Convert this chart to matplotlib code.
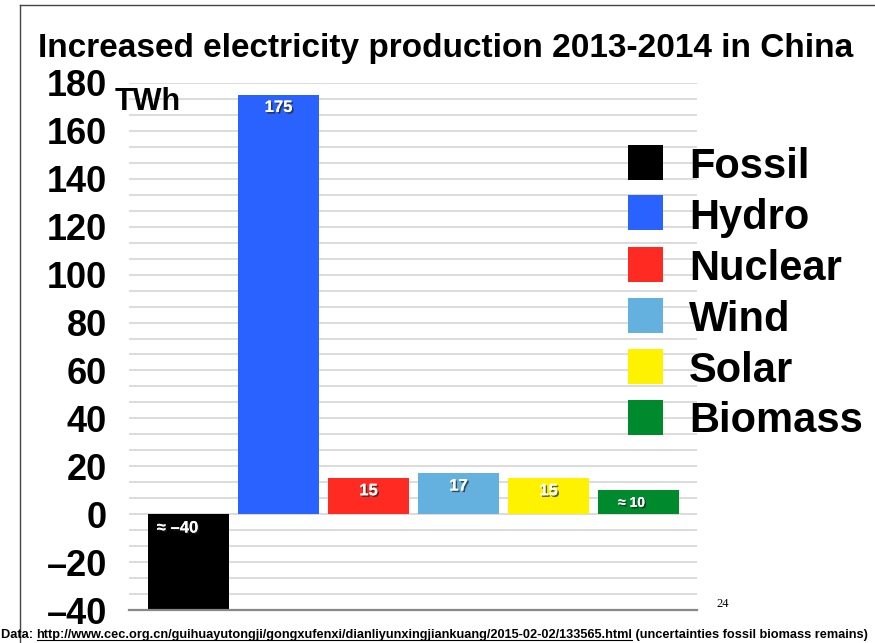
import numpy as np
import matplotlib
matplotlib.use("Agg")
import matplotlib.pyplot as plt
from matplotlib.ticker import MultipleLocator, FixedLocator, FixedFormatter
from matplotlib.patches import Rectangle
from matplotlib.lines import Line2D
import matplotlib.patheffects as pe

plt.rcParams['font.family'] = ['Liberation Sans', 'DejaVu Sans']

# ---- data ----
categories = ["Fossil", "Hydro", "Nuclear", "Wind", "Solar", "Biomass"]
values = [-40, 175, 15, 17, 15, 10]
value_labels = ["≈ –40", "175", "15", "17", "15", "≈ 10"]
colors = ["#000000", "#2962FF", "#FF2B22", "#64B0DF", "#FFF200", "#008A2E"]
ytick_values = [-40, -20, 0, 20, 40, 60, 80, 100, 120, 140, 160, 180]
ytick_labels = ["–40", "–20", "0", "20", "40", "60", "80", "100", "120", "140", "160", "180"]
title = "Increased electricity production 2013-2014 in China"
unit = "TWh"
footnote_pre = "Data: "
footnote_url = "http://www.cec.org.cn/guihuayutongji/gongxufenxi/dianliyunxingjiankuang/2015-02-02/133565.html"
footnote_post = " (uncertainties fossil biomass remains)"
page_number = "24"

W, H = 875, 643
fig = plt.figure(figsize=(W / 100, H / 100), dpi=100)
fig.patch.set_facecolor("white")

# slide border
fig.add_artist(Line2D([20 / W, 20 / W], [0, 1 - 5 / H], color="#444444", lw=1.0, transform=fig.transFigure))
fig.add_artist(Line2D([20 / W, 1], [1 - 5 / H, 1 - 5 / H], color="#444444", lw=1.0, transform=fig.transFigure))

ax = fig.add_axes([129 / W, 1 - 610 / H, (697 - 129) / W, (610 - 83) / H])
x = np.arange(len(categories))
ax.bar(x, values, width=0.91, color=colors, zorder=3)
ax.set_xlim(-0.661, 5.65)
ax.set_ylim(-40, 180)

ax.yaxis.set_major_locator(FixedLocator(ytick_values))
ax.yaxis.set_major_formatter(FixedFormatter(ytick_labels))
ax.yaxis.set_minor_locator(MultipleLocator(20 / 3))
ax.grid(axis="y", which="both", color="#D9D9D9", lw=1.3, zorder=0)
ax.tick_params(axis="y", which="both", length=0, pad=16, labelsize=26)
for lab in ax.get_yticklabels():
    lab.set_fontweight("bold")
ax.set_xticks([])
for s in ["left", "right", "top"]:
    ax.spines[s].set_visible(False)
ax.spines["bottom"].set_color("#888888")
ax.spines["bottom"].set_linewidth(1.6)
ax.spines["bottom"].set_zorder(4)

# value labels
shadow = [pe.withSimplePatchShadow(offset=(1.2, -1.2), shadow_rgbFace="#222222", alpha=0.7), pe.Normal()]
for i, (v, lab) in enumerate(zip(values, value_labels)):
    if v < 0:
        ax.annotate(lab, xy=(i, 0), xytext=(-8, -10), textcoords="offset points",
                    ha="center", va="center", color="white", fontsize=12, fontweight="bold",
                    path_effects=shadow, zorder=5)
    else:
        dx = -5 if lab.startswith("≈") else 0
        fs = 10 if lab.startswith("≈") else 12
        ax.annotate(lab, xy=(i, v), xytext=(dx, -9), textcoords="offset points",
                    ha="center", va="center", color="white", fontsize=fs, fontweight="bold",
                    path_effects=shadow, zorder=5)

# title, unit
fig.text(446 / W, 1 - 57 / H, title, ha="center", va="baseline", fontsize=24, fontweight="bold")
fig.text(115 / W, 1 - 102 / H, unit, ha="left", va="center", fontsize=22, fontweight="bold")

# legend (manual)
leg_left, leg_top, leg_step, sq = 628, 162, 51, 35
for k, (name, c) in enumerate(zip(categories, colors)):
    cy = leg_top + k * leg_step
    fig.add_artist(Rectangle((leg_left / W, 1 - (cy + sq / 2) / H), sq / W, sq / H,
                             facecolor=c, edgecolor="none", transform=fig.transFigure))
    fig.text(689 / W, 1 - cy / H, name, ha="left", va="center_baseline", fontsize=30, fontweight="bold")

# page number
fig.text(723 / W, 1 - 604 / H, page_number, ha="center", va="center", fontsize=9, family="Liberation Serif")

# footnote with underlined URL
fig.canvas.draw()
r = fig.canvas.get_renderer()
fy = 1 - 635 / H
fs_foot = 9.2
t1 = fig.text(1 / W, fy, footnote_pre, ha="left", va="center", fontsize=fs_foot, fontweight="bold")
bb1 = t1.get_window_extent(r)
t2 = fig.text(bb1.x1 / W, fy, footnote_url, ha="left", va="center", fontsize=fs_foot, fontweight="bold")
bb2 = t2.get_window_extent(r)
t3 = fig.text(bb2.x1 / W, fy, footnote_post, ha="left", va="center", fontsize=fs_foot, fontweight="bold")
uy = (bb2.y0 + 1.5) / H
fig.add_artist(Line2D([bb2.x0 / W, bb2.x1 / W], [uy, uy], color="black", lw=0.8, transform=fig.transFigure))

fig.savefig("out.png", dpi=100)
